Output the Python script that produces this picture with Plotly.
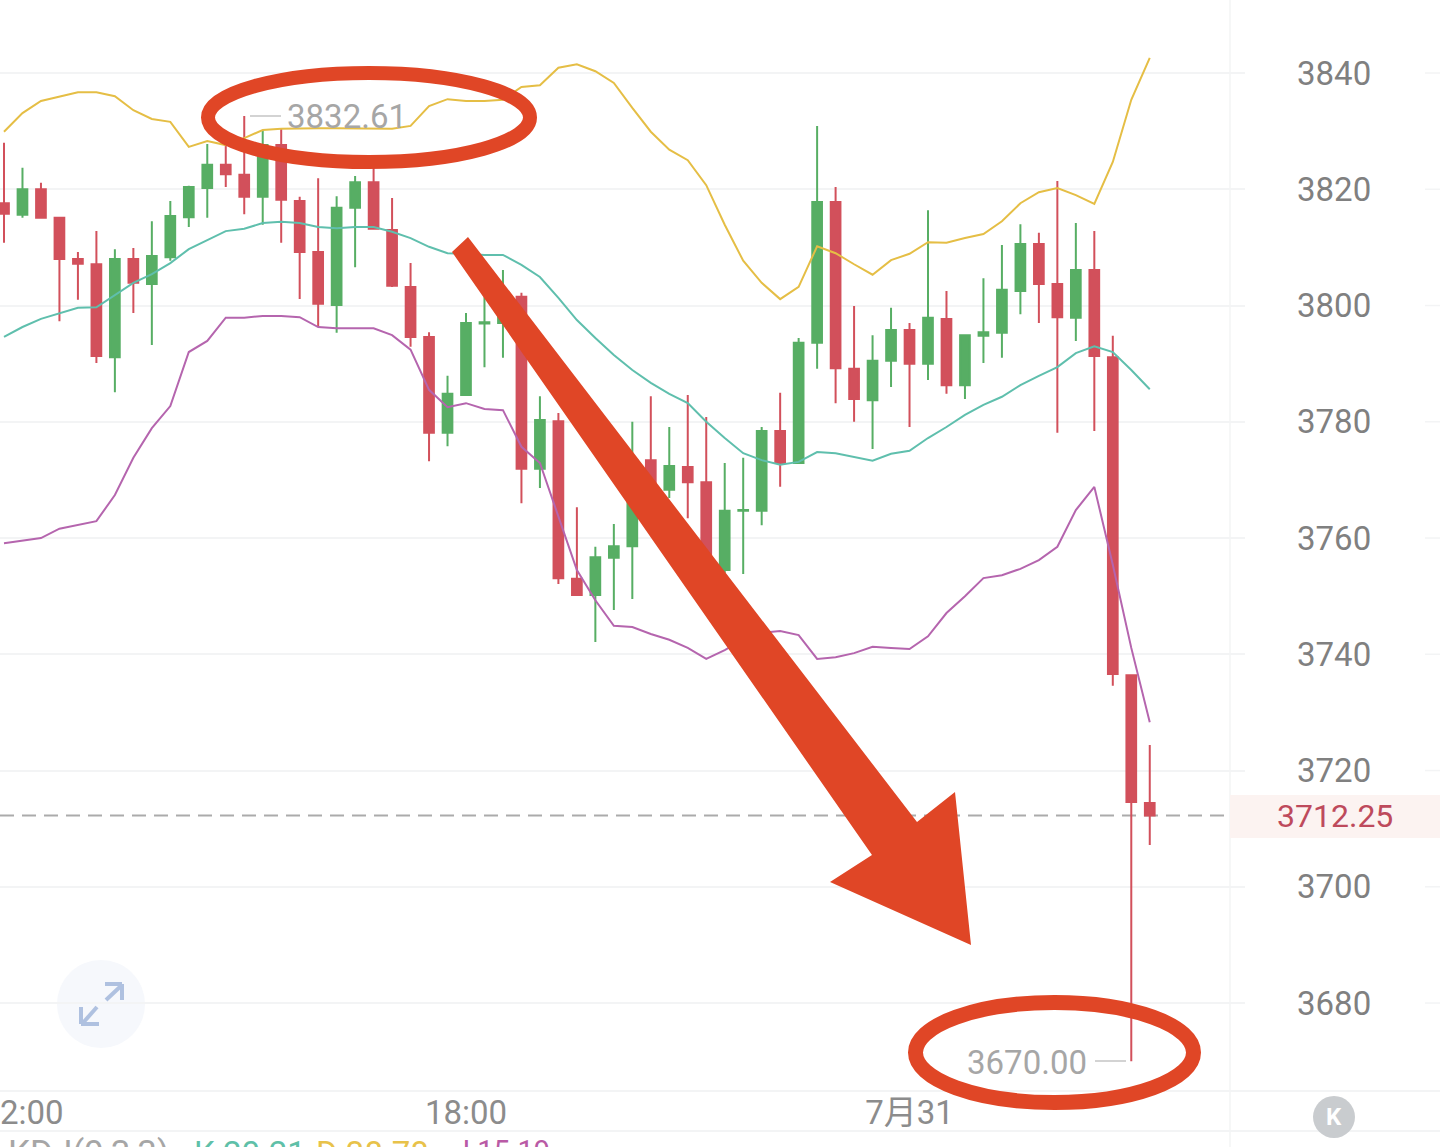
import plotly.graph_objects as go

# 15-minute candles
opens = [3817.6,3815.6,3820.0,3815.1,3808.0,3807.1,3791.1,3808.0,3803.7,3808.3,3815.2,3820.2,3824.2,3822.5,3818.7,3827.6,3818.0,3809.2,3800.1,3816.8,3821.2,3813.0,3803.2,3794.6,3778.1,3784.6,3796.9,3797.0,3801.5,3771.9,3780.1,3753.0,3750.2,3756.6,3758.6,3773.4,3768.3,3772.2,3769.6,3754.5,3764.7,3764.7,3778.4,3772.9,3793.6,3817.8,3789.1,3783.7,3790.5,3795.8,3790.0,3797.7,3786.3,3794.8,3795.3,3802.5,3810.6,3803.7,3797.9,3806.1,3791.1,3736.4,3714.4]
highs = [3828.0,3823.7,3821.1,3815.2,3809.2,3812.8,3809.7,3809.9,3814.5,3818.0,3820.6,3827.8,3827.6,3832.61,3830.2,3830.5,3818.7,3821.9,3818.8,3822.3,3824.2,3818.5,3807.3,3795.4,3787.9,3798.7,3801.5,3806.1,3802.2,3784.4,3781.5,3765.3,3758.5,3762.4,3780.0,3784.4,3779.1,3784.6,3780.8,3772.9,3773.8,3779.1,3785.0,3794.4,3830.9,3820.4,3799.9,3794.9,3799.6,3797.0,3816.4,3802.5,3794.9,3804.7,3810.4,3814.0,3812.5,3821.4,3814.2,3812.8,3794.8,3736.4,3724.4]
lows = [3810.8,3815.1,3815.0,3797.3,3801.0,3790.1,3785.1,3798.7,3793.2,3807.7,3813.5,3815.1,3820.4,3815.7,3813.9,3810.8,3801.1,3796.3,3795.3,3806.6,3813.1,3803.2,3792.9,3773.2,3775.8,3784.6,3789.4,3791.0,3766.0,3768.6,3752.1,3750.2,3742.1,3747.6,3749.5,3767.4,3766.9,3763.4,3753.6,3754.0,3753.8,3762.2,3768.8,3772.9,3789.1,3783.2,3780.0,3775.3,3786.0,3779.1,3787.2,3784.8,3783.9,3790.1,3791.0,3798.5,3797.0,3778.1,3793.9,3778.4,3734.6,3670.00,3707.2]
closes = [3815.8,3820.0,3815.1,3808.0,3807.2,3791.3,3808.0,3803.9,3808.5,3815.4,3820.4,3824.2,3822.6,3818.7,3827.6,3818.2,3809.2,3800.3,3816.8,3821.2,3813.2,3803.4,3794.6,3778.1,3784.8,3797.0,3797.1,3801.5,3771.9,3780.3,3753.1,3750.2,3756.7,3758.6,3773.4,3768.3,3772.4,3769.6,3754.5,3764.7,3764.8,3778.4,3772.9,3793.6,3817.8,3789.2,3783.9,3790.5,3795.8,3790.0,3797.9,3786.3,3794.9,3795.4,3802.7,3810.6,3803.7,3798.0,3806.1,3791.3,3736.6,3714.6,3712.25]

# Bollinger bands
upper = [3829.9,3833.1,3835.2,3836.0,3836.7,3836.7,3836.0,3833.6,3832.1,3831.6,3827.3,3828.3,3827.6,3828.8,3830.2,3830.4,3830.5,3830.5,3830.5,3830.5,3830.5,3830.4,3830.9,3834.3,3835.5,3835.2,3835.2,3835.4,3837.6,3837.9,3840.9,3841.5,3840.3,3838.3,3834.0,3829.9,3826.8,3825.0,3820.7,3813.9,3807.7,3803.9,3801.1,3803.2,3810.2,3809.0,3807.1,3805.3,3807.8,3808.9,3810.9,3810.8,3811.6,3812.3,3814.5,3817.6,3819.5,3820.2,3819.0,3817.5,3824.7,3835.4,3842.6]
middle = [3794.6,3796.3,3797.7,3798.7,3799.6,3799.7,3801.8,3803.9,3805.4,3807.3,3809.7,3811.3,3812.8,3813.2,3814.2,3814.4,3814.2,3813.5,3813.3,3813.5,3813.5,3812.7,3811.6,3810.1,3809.0,3808.9,3808.7,3808.7,3807.0,3804.9,3801.3,3797.5,3794.4,3791.5,3788.9,3786.7,3784.8,3783.2,3780.0,3777.2,3774.6,3773.4,3772.6,3773.1,3774.8,3774.6,3773.9,3773.3,3774.5,3775.0,3777.2,3779.1,3781.2,3782.9,3784.3,3786.3,3787.9,3789.4,3791.8,3793.0,3792.0,3788.9,3785.6]
lower = [3759.1,3759.5,3760.0,3761.6,3762.2,3762.9,3767.4,3773.8,3778.9,3782.7,3792.0,3793.9,3797.9,3797.9,3798.2,3798.2,3798.0,3796.3,3796.1,3796.1,3796.1,3794.9,3792.4,3785.5,3782.5,3783.2,3782.2,3782.0,3775.7,3772.9,3763.6,3754.5,3749.3,3744.9,3744.7,3743.5,3742.5,3741.1,3739.2,3740.7,3742.5,3743.7,3744.0,3743.3,3739.2,3739.5,3740.2,3741.3,3741.1,3740.9,3743.1,3747.1,3750.0,3753.1,3753.6,3754.7,3756.2,3758.5,3764.8,3768.8,3755.4,3741.1,3728.3]

y_ticks = [3840,3820,3800,3780,3760,3740,3720,3700,3680]
x_ticks = [1,25,49]
x_labels = ["12:00","18:00","7月31"]
last_price = 3712.25
max_label = "3832.61"
min_label = "3670.00"

W, H = 1440, 1147
PLOT_R, PLOT_B = 1245, 1090
X = lambda p: p / PLOT_R
Y = lambda p: (PLOT_B - p) / PLOT_B

FONT = "Roboto, 'Noto Sans CJK SC', sans-serif"
RED, GREEN = "#D2505B", "#57AE64"
ORANGE = "#E04626"
GRID = "#F3F4F5"
xs = list(range(len(opens)))

fig = go.Figure()
fig.add_trace(go.Candlestick(
    x=xs, open=opens, high=highs, low=lows, close=closes, whiskerwidth=0,
    increasing=dict(line=dict(color=GREEN, width=2), fillcolor=GREEN),
    decreasing=dict(line=dict(color=RED, width=2), fillcolor=RED),
    showlegend=False))
for vals, col in ((upper, "#E5BE45"), (middle, "#5FBFAD"), (lower, "#B565AE")):
    fig.add_trace(go.Scatter(x=xs, y=vals, mode="lines", line=dict(color=col, width=2),
                             showlegend=False))

shapes = []
def line(x0, y0, x1, y1, color, width=1.5, dash=None, layer="below"):
    shapes.append(dict(type="line", xref="paper", yref="paper", x0=X(x0), x1=X(x1), y0=Y(y0), y1=Y(y1),
                       line=dict(color=color, width=width, dash=dash), layer=layer))

# separators & stub grid at the far right
line(1230, 0, 1230, H, GRID)
line(0, 1091, W, 1091, GRID, 2)
line(0, 1131, W, 1131, GRID, 2)
for t in y_ticks:
    shapes.append(dict(type="line", xref="paper", yref="y", x0=X(1425), x1=X(W), y0=t, y1=t,
                       line=dict(color=GRID, width=1.5), layer="below"))
# price tag and last price line
shapes.append(dict(type="rect", xref="paper", yref="paper", x0=X(1230), x1=X(W), y0=Y(795), y1=Y(838),
                   fillcolor="#FCF3F1", line_width=0, layer="below"))
shapes.append(dict(type="line", xref="paper", yref="y", x0=0, x1=X(1230), y0=last_price, y1=last_price,
                   line=dict(color="#ABABAB", width=2, dash="14px,8px"), layer="below"))
# leader lines
line(250, 116, 281, 116, "#C4C4C4", 1.5, layer="above")
line(1095, 1061, 1126, 1061, "#C4C4C4", 1.5, layer="above")
# expand icon
shapes.append(dict(type="circle", xref="paper", yref="paper", x0=X(57), x1=X(145), y0=Y(960), y1=Y(1048),
                   fillcolor="#F6F8FC", line_width=0, layer="below"))
ICON = "#AFC1E0"
for a in ((106,1000,122,985),(105,984,122,984),(122,984,122,1000),(97,1007,82,1024),(81,1007,81,1024),(81,1024,99,1024)):
    line(*a, ICON, 4, layer="above")
# K button
shapes.append(dict(type="circle", xref="paper", yref="paper", x0=X(1313), x1=X(1355), y0=Y(1096), y1=Y(1138),
                   fillcolor="#C9CCCF", line_width=0, layer="below"))
# hand-drawn annotations
for x0, x1, y0, y1, w in ((208, 530, 73, 162, 14), (915.5, 1193.5, 1002.5, 1102.5, 15)):
    shapes.append(dict(type="circle", xref="paper", yref="paper", x0=X(x0), x1=X(x1), y0=Y(y0), y1=Y(y1),
                       fillcolor="rgba(0,0,0,0)", line=dict(color=ORANGE, width=w), layer="above"))
arrow_pts = [(468,237),(917,822),(955,792),(971,945),(830,882),(872,855),(452,252)]
path = "M " + " L ".join(f"{X(a):.5f} {Y(b):.5f}" for a, b in arrow_pts) + " Z"
shapes.append(dict(type="path", xref="paper", yref="paper", path=path, fillcolor=ORANGE, line_width=0, layer="above"))

def text(x, y, s, color, size=33, anchor="left", weight=None):
    return dict(xref="paper", yref="paper", x=X(x), y=Y(y), text=s, showarrow=False,
                xanchor=anchor, yanchor="middle", font=dict(family=FONT, size=size, color=color, weight=weight))

annotations = [
    text(285, 117, max_label, "#A6A6A6"),
    text(965, 1062, min_label, "#A6A6A6"),
    text(1335, 816, f"{last_price:.2f}", "#BE4A5C", size=32, anchor="center"),
    text(1334, 1117, "K", "#FFFFFF", size=24, anchor="center", weight="bold"),
    text(6, 1153, "KDJ(9,3,3)", "#A6A6A6", size=35),
    text(192, 1153, "K 20.21", "#5FC0A8"),
    text(314, 1153, "D 38.78", "#E8C24A"),
    text(452, 1151, "J 15.19", "#B95AA5", size=29),
]

fig.update_layout(
    width=W, height=H, margin=dict(l=0, r=W-PLOT_R, t=0, b=H-PLOT_B), paper_bgcolor="white", plot_bgcolor="white",
    font=dict(family=FONT, size=33, color="#858585"), showlegend=False, boxgap=0.25,
    shapes=shapes, annotations=annotations,
    xaxis=dict(range=[-4/18.48, (PLOT_R-4)/18.48], tickmode="array", tickvals=x_ticks, ticktext=x_labels,
               showgrid=False, zeroline=False, showline=False, ticks="", rangeslider=dict(visible=False),
               ticklabeloverflow="allow",
               tickfont=dict(family=FONT, size=33, color="#8C8C8C"), automargin=False),
    yaxis=dict(range=[3665.04, 3852.56], side="right", tickmode="array", tickvals=y_ticks, showgrid=True,
               gridcolor=GRID, gridwidth=1.5, zeroline=False, showline=False, ticks="", ticklabelstandoff=51,
               tickfont=dict(family=FONT, size=33, color="#808080"), automargin=False),
)
fig.write_html("out.html", config={"displayModeBar": False},
               post_script="document.body.style.margin='0';document.body.style.overflow='hidden';")
